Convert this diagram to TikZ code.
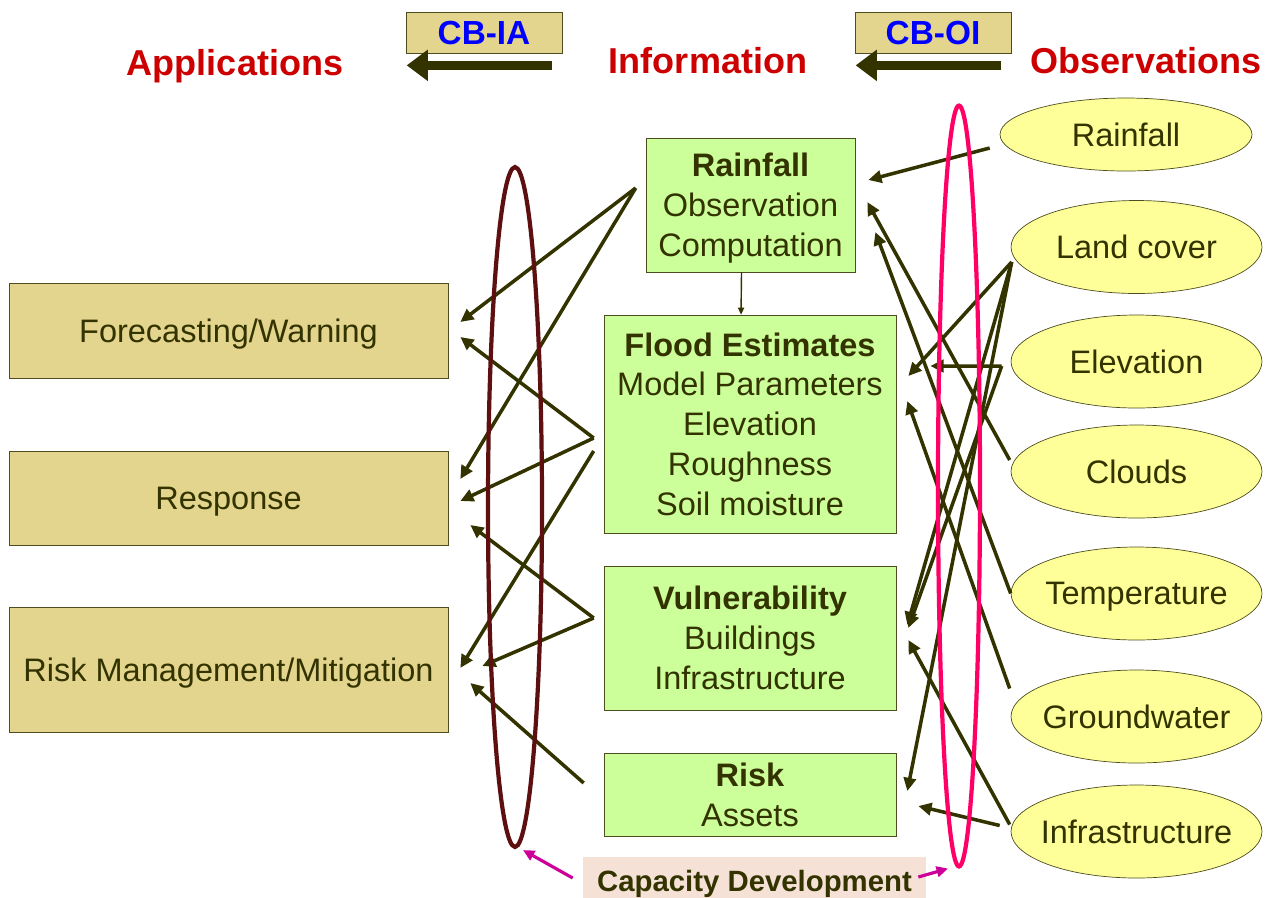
\documentclass[tikz,border=0pt]{standalone}
\usepackage{fontspec}
\setmainfont{Liberation Sans}
\usetikzlibrary{arrows.meta,shapes.geometric,calc}
\definecolor{darkolive}{HTML}{333300}
\definecolor{boxedge}{HTML}{4D4D1F}
\definecolor{tanfill}{HTML}{E3D58E}
\definecolor{greenfill}{HTML}{CCFF99}
\definecolor{obsfill}{HTML}{FFFF99}
\definecolor{headred}{HTML}{CC0000}
\definecolor{cbblue}{HTML}{0000FF}
\definecolor{ringmaroon}{HTML}{5E1010}
\definecolor{ringpink}{HTML}{FF0066}
\definecolor{capfill}{HTML}{F5E1D6}
\definecolor{cdmagenta}{HTML}{CC0099}
\begin{document}
\begin{tikzpicture}[x=0.02cm, y=-0.02cm,
		font=\fontsize{18.5}{22.7}\selectfont, text=darkolive, text depth=0pt,
		appbox/.style={draw=boxedge, fill=tanfill, minimum width=8.78cm},
		infobox/.style={draw=boxedge, fill=greenfill, minimum width=5.84cm, align=center},
		obsnode/.style={ellipse, draw=boxedge, fill=obsfill, minimum width=5.02cm, minimum height=1.86cm, inner xsep=-8pt},
		heading/.style={text=headred, font=\fontsize{20.5}{24}\selectfont\bfseries},
		cbbox/.style={draw=boxedge, fill=tanfill, minimum width=3.12cm, minimum height=0.82cm, text=cbblue, font=\fontsize{19}{23}\selectfont\bfseries},
		bigarrow/.style={draw=darkolive, line width=5.5pt, -{Triangle[length=12pt,width=17pt]}},
		link/.style={draw=darkolive, line width=2pt, -{Triangle[length=7.5pt,width=7pt]}},
		ring/.style={ellipse, line width=2.4pt, inner sep=0pt},
		cdarrow/.style={draw=cdmagenta, line width=1.8pt, -{Triangle[length=6.5pt,width=6pt]}}]
		\useasboundingbox (0,0) rectangle (1274,897);

		\node[heading] (apps) at (235,62) {Applications};
		\node[heading] (info) at (708,60) {Information};
		\node[heading] (obsv) at (1146,60) {Observations};
		\node[cbbox] (cbia) at (484,32.5) {CB-IA};
		\node[cbbox] (cboi) at (933,32.5) {CB-OI};
		\draw[bigarrow] ($(cbia.south east)+(-10,12)$) -- ($(cbia.south west)+(1,12)$);
		\draw[bigarrow] ($(cboi.south east)+(-10,12)$) -- ($(cboi.south west)+(1,12)$);

		\node[appbox, minimum height=1.9cm] (fcast) at (228.5,330.5) {Forecasting/Warning};
		\node[appbox, minimum height=1.88cm] (resp) at (228.5,498) {Response};
		\node[appbox, minimum height=2.5cm] (riskm) at (228.5,669.5) {Risk Management/Mitigation};

		\node[infobox, minimum width=4.18cm, minimum height=2.68cm] (rain) at (750.5,205) {\textbf{Rainfall}\\Observation\\Computation};
		\node[infobox, minimum height=4.36cm] (flood) at (750,424) {\textbf{Flood Estimates}\\Model Parameters\\Elevation\\Roughness\\Soil moisture};
		\node[infobox, minimum height=2.88cm] (vuln) at (750,638) {\textbf{Vulnerability}\\Buildings\\Infrastructure};
		\node[infobox, minimum height=1.66cm] (risk) at (750,794.5) {\textbf{Risk}\\Assets};
		\draw[darkolive, line width=0.8pt, -{Triangle[length=4pt,width=3.5pt]}] ([xshift=-0.18cm]rain.south) -- ([xshift=-0.18cm]flood.north);

		\node[obsnode, minimum width=5.04cm, minimum height=1.46cm] (orain) at (1126,134.5) {Rainfall};
		\node[obsnode] (lcover) at (1136.5,247) {Land cover};
		\node[obsnode] (elev) at (1136.5,361.5) {Elevation};
		\node[obsnode] (clouds) at (1136.5,471.5) {Clouds};
		\node[obsnode] (temp) at (1136.5,593.5) {Temperature};
		\node[obsnode] (ground) at (1136.5,716.5) {Groundwater};
		\node[obsnode] (infra) at (1136.5,831.5) {Infrastructure};

		\draw[link] ($(rain.west)+(-10,-17)$) -- ($(fcast.east)+(12,-8.5)$);
		\draw[link] ($(rain.west)+(-10,-17)$) -- ($(resp.east)+(12,-19)$);
		\draw[link] ($(flood.west)+(-10,14)$) -- ($(fcast.east)+(12,6.5)$);
		\draw[link] ($(flood.west)+(-10,14)$) -- ($(resp.east)+(12,3)$);
		\draw[link] ($(flood.west)+(-10,27)$) -- ($(riskm.east)+(12,-1.5)$);
		\draw[link] ($(vuln.west)+(-10,-20)$) -- ($(resp.east)+(22,27)$);
		\draw[link] ($(vuln.west)+(-10,-20)$) -- ($(riskm.east)+(34,-3.5)$);
		\draw[link] ($(risk.west)+(-20,-11.5)$) -- ($(riskm.east)+(22,13.5)$);

		\draw[link] ($(orain.west)+(-10,13.5)$) -- ($(rain.east)+(13,-25)$);
		\draw[link] ($(lcover.west)+(1,15)$) -- ($(flood.east)+(12,-48)$);
		\draw[link] ($(lcover.west)+(1,15)$) -- ($(vuln.east)+(11,-13)$);
		\draw[link] ($(lcover.west)+(1,15)$) -- ($(risk.east)+(11,-3.5)$);
		\draw[link] ($(elev.west)+(-9,4.5)$) -- ($(flood.east)+(34,-58)$);
		\draw[link] ($(elev.west)+(-9,4.5)$) -- ($(vuln.east)+(12,-10)$);
		\draw[link] ($(clouds.west)+(-1,-11.5)$) -- ($(rain.east)+(12,-3)$);
		\draw[link] (temp.west) -- ($(rain.east)+(20,27)$);
		\draw[link] ($(ground.west)+(-1,-28)$) -- ($(flood.east)+(11,-23)$);
		\draw[link] ($(infra.west)+(-1,-7)$) -- ($(vuln.east)+(12,2)$);
		\draw[link] ($(infra.west)+(-11,-6)$) -- ($(risk.east)+(22,11.5)$);

		\node[ring, draw=ringmaroon, minimum width=1.08cm, minimum height=13.6cm] (appring) at (515,507) {};
		\node[ring, draw=ringpink, minimum width=0.84cm, minimum height=15.22cm] (obsring) at (959,486) {};

		\node[fill=capfill, minimum width=6.86cm, minimum height=0.96cm, font=\fontsize{16.7}{20}\selectfont\bfseries] (capdev) at (754.5,881) {Capacity Development};
		\draw[cdarrow] ($(capdev.west)+(-10,-3)$) -- ($(appring.south)+(8,1)$);
		\draw[cdarrow] ($(capdev.east)+(-8,-4)$) -- ($(obsring.south)+(-11,0)$);
\end{tikzpicture}
\end{document}
